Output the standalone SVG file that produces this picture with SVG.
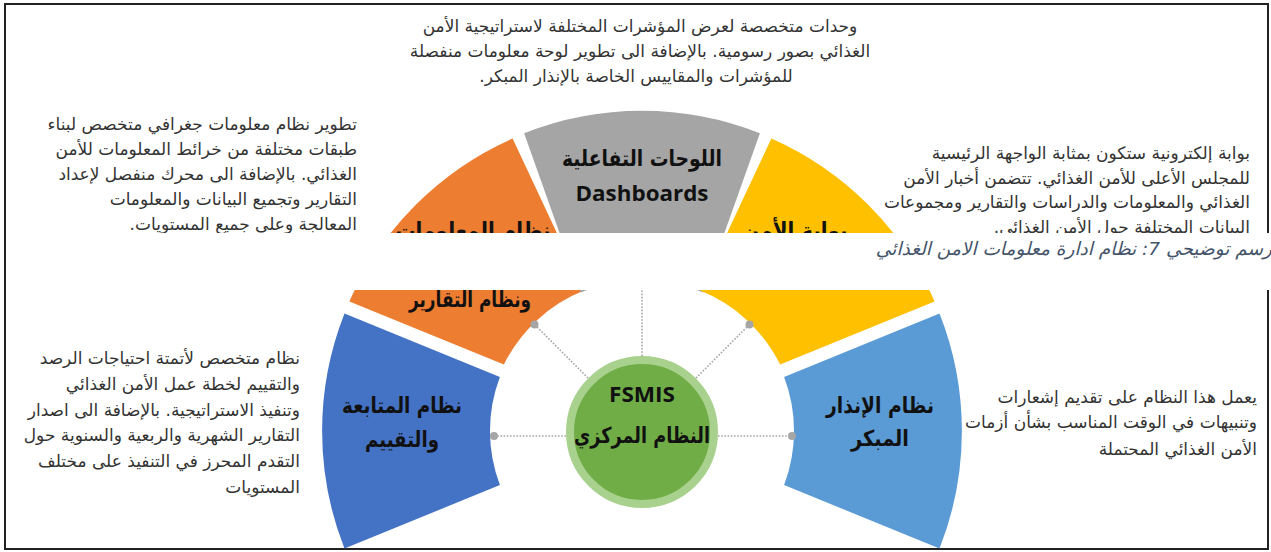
<svg xmlns="http://www.w3.org/2000/svg" width="1271" height="552" viewBox="0 0 1271 552">
<style>
.desc{font-family:"DejaVu Sans",sans-serif;font-size:17px;fill:#333;direction:rtl;unicode-bidi:embed}
.lbl{font-family:"DejaVu Sans",sans-serif;font-size:22px;font-weight:bold;fill:#111;text-anchor:middle;direction:rtl;unicode-bidi:embed}
.lat{font-family:"Open Sans","DejaVu Sans",sans-serif;font-size:22px;font-weight:bold;fill:#111;text-anchor:middle}
.r{text-anchor:start}
.c{text-anchor:middle}
.conn{stroke:#a6a6a6;stroke-width:1.6;stroke-dasharray:1.6 1.6;fill:none}
.dot{fill:#a6a6a6}
.frame{stroke:#222;stroke-width:2;fill:none}
.cap{font-family:"DejaVu Sans",sans-serif;font-size:18.5px;font-style:italic;fill:#44546a;direction:rtl;unicode-bidi:embed;text-anchor:start}
</style>
<defs>
<clipPath id="vis"><rect x="0" y="0" width="1271" height="233"/><rect x="0" y="290" width="1271" height="262"/></clipPath>
<clipPath id="top"><rect x="0" y="0" width="1271" height="233"/></clipPath>
<clipPath id="bot"><rect x="0" y="290" width="1271" height="262"/></clipPath>
</defs>
<rect width="1271" height="552" fill="#fff"/>
<g id="frame">
<path class="frame" d="M1268,233 V4 H5 V549 H1268 V290"/>
</g>
<g id="ring" clip-path="url(#vis)">
<g id="seg-eval"><path fill="#4472c4" d="M344.5,313.4 A320,320 0 0 0 344.5,548.6 L499.9,485 A152,152 0 0 1 499.9,377 Z"/></g>
<g id="seg-gis"><path fill="#ed7d31" d="M349.4,301.4 A320,320 0 0 1 512.6,138.5 L583.9,290.6 A152,152 0 0 0 503.9,364.5 Z"/></g>
<g id="seg-dash"><path fill="#a5a5a5" d="M524.1,133.3 A320,320 0 0 1 759.9,133.3 L703.2,292.6 A152,152 0 0 0 580.8,292.6 Z"/></g>
<g id="seg-portal"><path fill="#ffc000" d="M771.4,138.5 A320,320 0 0 1 934.6,301.4 L780.1,364.5 A152,152 0 0 0 700.1,290.6 Z"/></g>
<g id="seg-warn"><path fill="#5b9bd5" d="M939.5,313.4 A320,320 0 0 1 939.5,548.6 L784.1,485 A152,152 0 0 0 784.1,377 Z"/></g>
</g>
<g id="connectors">
<line class="conn" x1="566" y1="436" x2="494" y2="436"/>
<line class="conn" x1="718" y1="436" x2="792" y2="436"/>
<line class="conn" x1="642" y1="356" x2="642" y2="290"/>
<line class="conn" x1="588" y1="378" x2="534.5" y2="324.5"/>
<line class="conn" x1="696" y1="378" x2="749.5" y2="324.5"/>
<circle class="dot" cx="494" cy="436" r="4"/>
<circle class="dot" cx="792" cy="436" r="4"/>
<circle class="dot" cx="534.5" cy="324.5" r="4"/>
<circle class="dot" cx="749.5" cy="324.5" r="4"/>
</g>
<g id="center">
<circle cx="642" cy="432" r="72" fill="#70ad47" stroke="#a9d18e" stroke-width="8"/>
<text class="lat" x="642" y="402" textLength="66" lengthAdjust="spacingAndGlyphs">FSMIS</text>
<text class="lbl" x="642" y="443" textLength="136" lengthAdjust="spacingAndGlyphs">النظام المركزي</text>
</g>
<g id="labels-ring">
<text class="lbl" x="642" y="166" textLength="160" lengthAdjust="spacingAndGlyphs">اللوحات التفاعلية</text>
<text class="lat" x="642" y="201" textLength="133" lengthAdjust="spacingAndGlyphs">Dashboards</text>
<g clip-path="url(#vis)">
<g clip-path="url(#top)">
<text class="lbl" x="473" y="238" textLength="155" lengthAdjust="spacingAndGlyphs">نظام المعلومات</text>
<text class="lbl" x="795" y="238" textLength="105" lengthAdjust="spacingAndGlyphs">بوابة الأمن</text>
</g>
<g clip-path="url(#bot)">
<text class="lbl" x="470" y="307" textLength="122" lengthAdjust="spacingAndGlyphs">ونظام التقارير</text>
</g>
</g>
<text class="lbl" x="402" y="413" textLength="120" lengthAdjust="spacingAndGlyphs">نظام المتابعة</text>
<text class="lbl" x="402" y="447" textLength="74" lengthAdjust="spacingAndGlyphs">والتقييم</text>
<text class="lbl" x="880" y="413" textLength="108" lengthAdjust="spacingAndGlyphs">نظام الإنذار</text>
<text class="lbl" x="880" y="446" textLength="58" lengthAdjust="spacingAndGlyphs">المبكر</text>
</g>
<g id="desc-top">
<text class="desc c" x="640" y="32">وحدات متخصصة لعرض المؤشرات المختلفة لاستراتيجية الأمن</text>
<text class="desc c" x="640" y="57">الغذائي بصور رسومية. بالإضافة الى تطوير لوحة معلومات منفصلة</text>
<text class="desc c" x="636" y="82">للمؤشرات والمقاييس الخاصة بالإنذار المبكر.</text>
</g>
<g id="desc-gis" clip-path="url(#top)">
<text class="desc r" x="357" y="130">تطوير نظام معلومات جغرافي متخصص لبناء</text>
<text class="desc r" x="357" y="155">طبقات مختلفة من خرائط المعلومات للأمن</text>
<text class="desc r" x="357" y="180">الغذائي. بالإضافة الى محرك منفصل لإعداد</text>
<text class="desc r" x="357" y="205">التقارير وتجميع البيانات والمعلومات</text>
<text class="desc r" x="357" y="230">المعالجة وعلى جميع المستويات.</text>
</g>
<g id="desc-portal" clip-path="url(#top)">
<text class="desc r" x="1250" y="159">بوابة إلكترونية ستكون بمثابة الواجهة الرئيسية</text>
<text class="desc r" x="1250" y="184">للمجلس الأعلى للأمن الغذائي. تتضمن أخبار الأمن</text>
<text class="desc r" x="1250" y="208">الغذائي والمعلومات والدراسات والتقارير ومجموعات</text>
<text class="desc r" x="1250" y="233">البيانات المختلفة حول الأمن الغذائي.</text>
</g>
<g id="desc-eval">
<text class="desc r" x="300" y="364">نظام متخصص لأتمتة احتياجات الرصد</text>
<text class="desc r" x="300" y="390">والتقييم لخطة عمل الأمن الغذائي</text>
<text class="desc r" x="300" y="416">وتنفيذ الاستراتيجية. بالإضافة الى اصدار</text>
<text class="desc r" x="300" y="441">التقارير الشهرية والربعية والسنوية حول</text>
<text class="desc r" x="300" y="467">التقدم المحرز في التنفيذ على مختلف</text>
<text class="desc r" x="300" y="493">المستويات</text>
</g>
<g id="desc-warn">
<text class="desc r" x="1257" y="403">يعمل هذا النظام على تقديم إشعارات</text>
<text class="desc r" x="1257" y="428">وتنبيهات في الوقت المناسب بشأن أزمات</text>
<text class="desc r" x="1257" y="455">الأمن الغذائي المحتملة</text>
</g>
<g id="caption">
<text class="cap" x="1272" y="255">رسم توضيحي 7: نظام ادارة معلومات الامن الغذائي</text>
</g>
</svg>
